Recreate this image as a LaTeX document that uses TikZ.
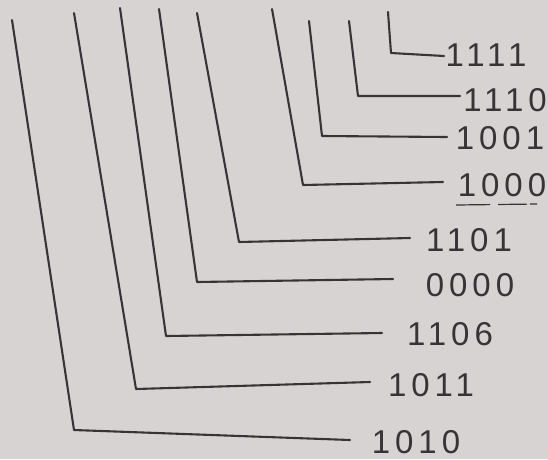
\documentclass[tikz,border=0pt]{standalone}
\usepackage{fontspec}
\newfontfamily\handfont[LetterSpace=15]{Liberation Sans}
\definecolor{paper}{RGB}{216,211,211}
\definecolor{ink}{RGB}{55,52,55}
\begin{document}
\begin{tikzpicture}[x=1pt,y=-1pt,
  wire/.style={draw=ink,line width=2.1pt,line join=round,line cap=round},
  code/.style={text=ink,font=\handfont\fontsize{33}{33}\selectfont,inner sep=0pt,anchor=center}]
\fill[paper] (0,0) rectangle (548,459);
\useasboundingbox (0,0) rectangle (548,459);
% labels
\node[code] (l9) at (486,55) {1111};
\node[code] (l8) at (505,100) {1110};
\node[code] (l7) at (500,138) {1001};
\node[code] (l6) at (502,185) {1000};
\node[code] (l5) at (469,240) {1101};
\node[code] (l4) at (470,285) {0000};
\node[code] (l3) at (450,334) {1106};
\node[code] (l2) at (431,385) {1011};
\node[code] (l1) at (416,442) {1010};
% coordinates: start, corner, end
\coordinate (s1) at (12,20);  \coordinate (k1) at (74,430);  \coordinate (t1) at (350,440);
\coordinate (s2) at (74,13);  \coordinate (k2) at (136,389); \coordinate (t2) at (370,382);
\coordinate (s3) at (120,8);  \coordinate (k3) at (166,336); \coordinate (t3) at (382,333);
\coordinate (s4) at (159,9);  \coordinate (k4) at (197,282); \coordinate (t4) at (393,279);
\coordinate (s5) at (197,13); \coordinate (k5) at (239,242); \coordinate (t5) at (410,238);
\coordinate (s6) at (272,9);  \coordinate (k6) at (303,185); \coordinate (t6) at (443,182);
\coordinate (s7) at (309,21); \coordinate (k7) at (322,136); \coordinate (t7) at (447,137);
\coordinate (s8) at (349,21); \coordinate (k8) at (358,96);  \coordinate (t8) at (460,96);
\coordinate (s9) at (388,12); \coordinate (k9) at (391,53);  \coordinate (t9) at (444,56);
\foreach \i in {1,...,9} {\draw[wire] (s\i) -- (k\i) -- (t\i);}
% underline under 1000
\coordinate (u1) at (456,205); \coordinate (u2) at (537,204);
\draw[draw=ink,line width=1.2pt,dash pattern=on 34pt off 8pt on 29pt off 3pt] (u1) -- (u2);
\end{tikzpicture}
\end{document}
